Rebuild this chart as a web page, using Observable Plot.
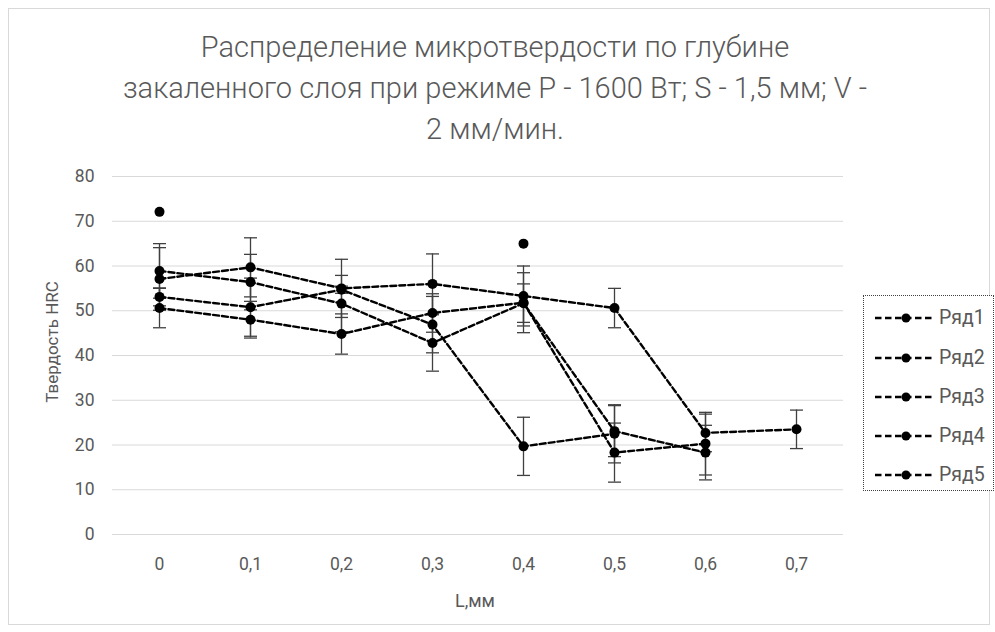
<!DOCTYPE html>
<html>
<head>
<meta charset="utf-8">
<script src="https://cdn.jsdelivr.net/npm/d3@7"></script>
<script src="https://cdn.jsdelivr.net/npm/@observablehq/plot@0.6"></script>
<style>
  html, body { margin: 0; padding: 0; background: #fff; }
  #wrap { position: relative; width: 995px; height: 632px; overflow: hidden; font-family: Roboto, "Open Sans", sans-serif; color: #595959; }
  #frame { position: absolute; left: 8px; top: 8px; width: 982px; height: 617px; border: 1px solid #d9d9d9; box-sizing: border-box; }
  #chart { position: absolute; left: 0; top: 0; }
  #title { position: absolute; left: 45px; width: 900px; top: 27px; text-align: center; font-size: 29px; font-weight: 300; line-height: 41px; color: #595959; }
  #ylabel { position: absolute; left: 52px; top: 342px; transform: translate(-50%, -50%) rotate(-90deg); font-size: 17px; white-space: nowrap; }
  #xlabel { position: absolute; left: 475px; top: 600px; transform: translate(-50%, -50%); font-size: 18px; white-space: nowrap; }
  #legend { position: absolute; left: 863px; top: 295px; width: 131px; height: 196px; border: 1px dotted #404040; box-sizing: border-box; background: #fff; }
  .lg { position: absolute; left: 0; height: 22px; width: 131px; }
  .lg svg { position: absolute; left: 10px; top: 0; }
  .lg span { position: absolute; left: 75px; top: 0; line-height: 22px; font-size: 19.5px; color: #595959; }
</style>
</head>
<body>
<div id="wrap">
  <div id="frame"></div>
  <div id="chart"></div>
  <div id="title">Распределение микротвердости по глубине<br>закаленного слоя при режиме Р - 1600 Вт; S - 1,5 мм; V -<br>2 мм/мин.</div>
  <div id="ylabel">Твердость HRC</div>
  <div id="xlabel">L,мм</div>
  <div id="legend"></div>
</div>
<script>
// ---- data ----
const categories = ["0", "0,1", "0,2", "0,3", "0,4", "0,5", "0,6", "0,7"];
const seriesNames = ["Ряд1", "Ряд2", "Ряд3", "Ряд4", "Ряд5"];
const yTicks = [0, 10, 20, 30, 40, 50, 60, 70, 80];

const row1 = [58.9, 56.4, 51.6, 42.8, 51.7, 23.1, 18.3, null];
const row2 = [57.1, 59.7, 55.0, 56.0, 53.3, 50.6, 22.7, 23.5];
const row3 = [53.1, 50.8, 54.7, 46.9, 19.7, 22.5, null, null];
const row4 = [50.6, 48.0, 44.8, 49.5, 51.8, 18.3, 20.3, null];
const row5 = [72.1, null, null, null, 65.0, null, null, null];

const err1 = [6.1, 6.2, 6.3, 6.3, 4.3, 5.7, 6.1, null];
const err2 = [7.0, 6.6, 6.5, 6.7, 6.7, 4.4, 4.2, 4.3];
const err3 = [2.0, 6.5, 0.8, 6.3, 6.5, 6.5, null, null];
const err4 = [4.4, 4.1, 4.5, 4.3, 6.7, 6.6, 7.0, null];
const err5 = [null, null, null, null, null, null, null, null];

const values = [row1, row2, row3, row4, row5];
const errors = [err1, err2, err3, err4, err5];

const rows = [];
seriesNames.forEach((s, i) => {
  categories.forEach((c, j) => {
    rows.push({series: s, x: c, y: values[i][j], err: errors[i][j]});
  });
});
const pts = rows.filter(d => d.y != null);
const errRows = pts.filter(d => d.err != null);

const capSymbol = {
  draw(context, size) {
    const w = Math.sqrt(size / Math.PI);
    context.moveTo(-w, 0);
    context.lineTo(w, 0);
  }
};

const gray = "#595959";
const barColor = "#404040";

const plot = Plot.plot({
  width: 995,
  height: 632,
  marginLeft: 112,
  marginRight: 152,
  marginTop: 176,
  marginBottom: 98,
  style: {fontFamily: "Roboto, 'Open Sans', sans-serif", background: "transparent"},
  x: {type: "point", domain: categories, padding: 0.5, label: null},
  y: {domain: [0, 80], label: null},
  marks: [
    Plot.ruleY(yTicks, {stroke: "#d9d9d9", strokeWidth: 1}),
    Plot.axisY({ticks: yTicks, tickSize: 0, tickPadding: 18, fontSize: 17.5, fill: gray, label: null}),
    Plot.axisX({tickSize: 0, tickPadding: 23, fontSize: 17.5, fill: gray, label: null}),
    Plot.ruleX(errRows, {x: "x", y1: d => d.y - d.err, y2: d => d.y + d.err, stroke: barColor, strokeWidth: 1.3}),
    Plot.dot(errRows, {x: "x", y: d => d.y - d.err, symbol: capSymbol, r: 6.5, stroke: barColor, fill: "none", strokeWidth: 1.3}),
    Plot.dot(errRows, {x: "x", y: d => d.y + d.err, symbol: capSymbol, r: 6.5, stroke: barColor, fill: "none", strokeWidth: 1.3}),
    Plot.line(rows, {x: "x", y: "y", z: "series", stroke: "#000", strokeWidth: 2.4, strokeDasharray: "6,3"}),
    Plot.dot(pts, {x: "x", y: "y", r: 5, fill: "#000", stroke: "none"})
  ]
});
document.getElementById("chart").appendChild(plot);

// legend
const legend = document.getElementById("legend");
const legendTops = [11, 51, 90, 129, 168];
seriesNames.forEach((s, i) => {
  const div = document.createElement("div");
  div.className = "lg";
  div.style.top = legendTops[i] + "px";
  div.innerHTML = `<svg width="62" height="22"><line x1="1" y1="11" x2="61" y2="11" stroke="#000" stroke-width="2.6" stroke-dasharray="6.5,3.5"/><circle cx="32" cy="11" r="4.5" fill="#000"/></svg><span>${s}</span>`;
  legend.appendChild(div);
});
</script>
</body>
</html>
